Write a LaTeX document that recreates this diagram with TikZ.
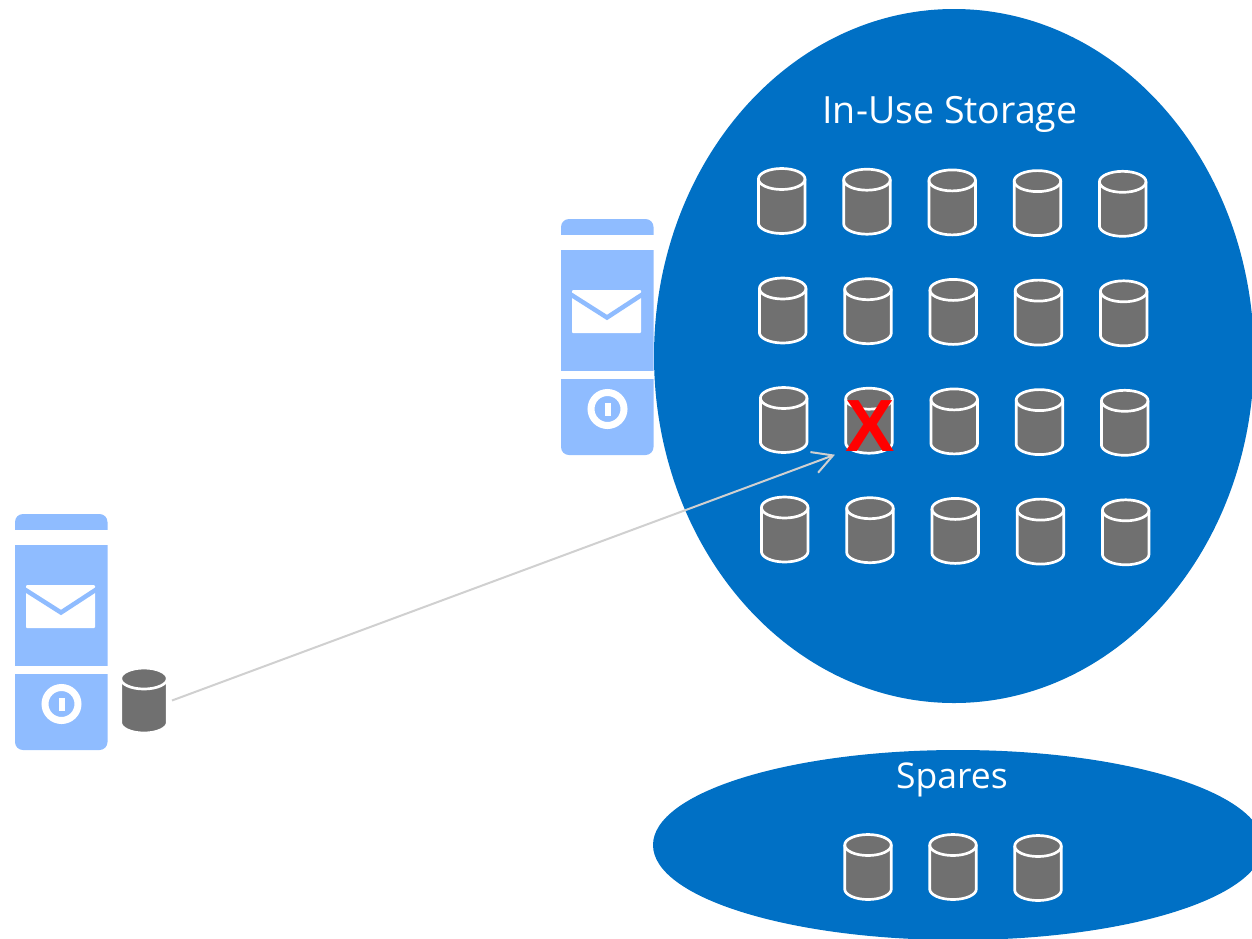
\documentclass[tikz,border=0pt]{standalone}
\usepackage{fontspec}
\setmainfont{Open Sans}
\newfontfamily\crossfont{Liberation Sans}
\usetikzlibrary{shapes.geometric,arrows.meta}
\definecolor{poolblue}{HTML}{0070C5}
\definecolor{serverblue}{HTML}{8FBCFF}
\definecolor{diskgray}{HTML}{707070}
\definecolor{linegray}{HTML}{D0D0D0}

\begin{document}
\begin{tikzpicture}[x=1pt,y=-1pt,
        disk line/.style={draw=white,line width=2.7pt},
        pool node/.style={ellipse,fill=poolblue,inner sep=0pt,outer sep=0pt},
        pool label/.style={text=white,inner sep=0pt},
        disk/.pic={
            \node[minimum width=48pt,minimum height=66pt,inner sep=0pt] (-c) {};
            \path[disk line,fill=diskgray] (-23.3,-22) -- (-23.3,22)
                arc[start angle=180,end angle=0,x radius=23.3,y radius=10.5] -- (23.3,-22)
                arc[start angle=0,end angle=-180,x radius=23.3,y radius=10.5] -- cycle;
            \path[disk line] (-23.3,-22) arc[start angle=180,end angle=0,x radius=23.3,y radius=10.5];
        },
        server/.pic={
            \fill[serverblue,rounded corners=8pt] (0,0) rectangle (92.5,236);
            \fill[white] (0,16) rectangle (92.5,31);
            \fill[white] (0,152) rectangle (92.5,160);
            \fill[white,rounded corners=1pt] (11,71) rectangle (80,114);
            \draw[serverblue,line width=4.5pt] (9,75) -- (46,98.5) -- (82,75);
            \draw[white,line width=7pt] (46.5,190) circle (16.5);
            \fill[white] (43.5,183.5) rectangle (49.5,196.5);
        }]

    \useasboundingbox (0,0) rectangle (1252,938);

    \pic (server1) at (561,219) {server};
    \pic (server2) at (15,514) {server};

    \node[pool node,minimum width=600pt,minimum height=694pt] (inuse) at (954,356) {};
    \node[pool node,minimum width=610pt,minimum height=190pt] (sparepool) at (958,845) {};

    \node[pool label,font=\fontsize{37.5}{44}\selectfont] (inuselabel) at (950,114) {In-Use Storage};
    \node[pool label,font=\fontsize{35.5}{42}\selectfont] (sparelabel) at (952,780) {Spares};

    \foreach \r in {0,...,3}
        \foreach \c in {0,...,4}
            \pic (d\r\c) at ({781.7+85.25*\c+\r},{201+109.5*\r+0.7*\c}) {disk};

    \pic (s0) at (868,867) {disk};
    \pic (s1) at (953,867) {disk};
    \pic (s2) at (1038,868) {disk};

    \pic (spare) at (144,700.5) {disk};

    \node[text=red,font=\crossfont\bfseries\fontsize{74}{74}\selectfont,inner sep=0pt] (cross) at (870.5,426) {X};

    \draw[linegray,line width=2pt,-{Straight Barb[length=20pt,width=22pt]}]
        ([xshift=28pt]spare-c.center) -- ([xshift=-34pt,yshift=-34pt]d21-c.center);

\end{tikzpicture}
\end{document}
